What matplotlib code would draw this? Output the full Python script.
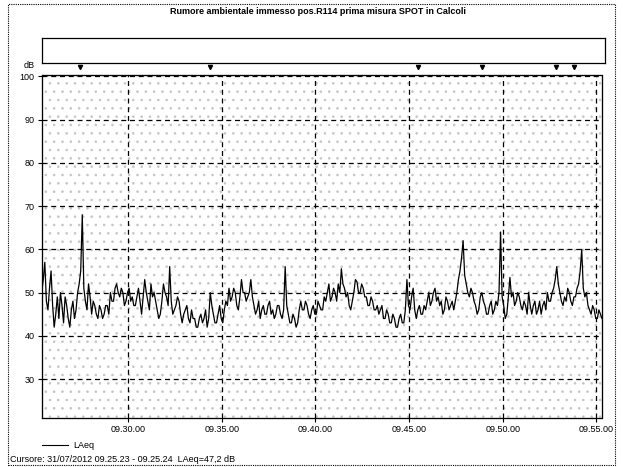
import numpy as np
import pandas as pd
import matplotlib
matplotlib.use("Agg")
import matplotlib.pyplot as plt
import matplotlib.dates as mdates
from matplotlib.patches import Rectangle
from matplotlib.lines import Line2D

plt.rcParams['font.family'] = ['Liberation Sans', 'DejaVu Sans']
plt.rcParams['hatch.linewidth'] = 0.6

title = "Rumore ambientale immesso pos.R114 prima misura SPOT in Calcoli"
cursor_txt = "Cursore: 31/07/2012 09.25.23 - 09.25.24  LAeq=47,2 dB"

start = pd.Timestamp("2012-07-31 09:25:23")
step_s = 5

# LAeq, one reading every 5 s (12 per row = 1 minute)
laeq = [
    50, 53, 57, 48, 46, 51, 55, 47, 42, 45, 49, 44,
    50, 47, 43, 49, 47, 44, 42, 46, 48, 44, 46, 50,
    52, 55, 68, 51, 48, 46, 52, 49, 45, 48, 47, 45,
    44, 47, 46, 44, 45, 47, 47, 45, 50, 48, 48, 51,
    52, 50, 49, 51, 50, 47, 48, 50, 51, 48, 49, 47,
    47, 49, 51, 48, 45, 49, 53, 50, 48, 46, 52, 49,
    50, 48, 46, 44, 45, 48, 52, 50, 49, 47, 56, 48,
    45, 46, 47, 49, 48, 45, 43, 45, 46, 47, 44, 43,
    46, 44, 44, 42, 42, 44, 45, 43, 44, 46, 42, 44,
    50, 47, 45, 43, 43, 45, 47, 44, 43, 46, 48, 47,
    51, 48, 49, 51, 50, 47, 46, 49, 53, 50, 50, 48,
    49, 50, 53, 49, 47, 45, 46, 48, 44, 46, 47, 45,
    45, 47, 48, 45, 46, 44, 45, 47, 47, 45, 44, 46,
    56, 47, 45, 43, 43, 45, 44, 42, 43, 46, 48, 46,
    46, 48, 47, 45, 44, 46, 47, 45, 45, 48, 47, 46,
    46, 49, 48, 50, 52, 48, 49, 51, 50, 48, 52, 50,
    55.5, 52, 51, 49, 50, 47, 46, 48, 50, 53, 52.5, 50,
    50, 52, 51, 49, 49, 47, 47, 49, 48, 46, 46, 47,
    45, 46, 47, 44, 44, 46, 45, 43, 43, 45, 44, 42,
    42, 44, 45, 43, 43, 46, 53, 47, 46, 49, 51, 46,
    44, 46, 47, 45, 45, 47, 46, 48, 50, 47, 48, 50,
    51, 48, 49, 47, 48, 45, 46, 49, 48, 46, 47, 48,
    46, 48, 50, 53, 55, 58, 62, 54, 52, 50, 49, 51,
    50, 48, 47, 45, 46, 49, 50, 48, 47, 45, 45, 47,
    48, 45, 46, 48, 47, 50, 64, 49, 47, 44, 45, 49,
    53.5, 49, 50, 47, 48, 50, 49, 47, 46, 48, 47, 45,
    50, 47, 45, 47, 48, 45, 46, 48, 45, 47, 48, 46,
    50, 48, 48, 50, 51, 53, 56, 52, 50, 48, 47, 49,
    48, 51, 50, 48, 47, 49, 49, 51, 52, 55, 60, 51,
    49, 50, 47, 46, 45, 47, 46, 44, 44, 46, 45, 44,
]

# event markers above the plot, seconds after start
marker_s = [123, 538, 1205, 1410, 1646, 1704]

yticks = [30, 40, 50, 60, 70, 80, 90, 100]

times = start + pd.to_timedelta(np.arange(len(laeq)) * step_s, unit="s")
t_end = start + pd.Timedelta(seconds=1794)

W, H = 623, 467
fig = plt.figure(figsize=(W / 100, H / 100), dpi=100)

def fx(px):
    return px / W

def fy(py):
    return 1 - py / H

# main plot
ax = fig.add_axes([fx(41.7), fy(418), fx(601.7 - 41.7), (418 - 75) / H])
bg = Rectangle((0, 0), 1, 1, transform=ax.transAxes, facecolor="white",
               hatch="..", edgecolor="#c4c4c4", lw=0, zorder=0)
ax.add_patch(bg)
ax.set_facecolor("white")

ax.plot(times, laeq, color="black", lw=0.9, zorder=3)

ax.set_xlim(start, t_end)
ax.set_ylim(21, 100.3)
ax.set_yticks(yticks)
ax.xaxis.set_major_locator(mdates.MinuteLocator(byminute=range(0, 60, 5)))
ax.xaxis.set_major_formatter(mdates.DateFormatter("%H.%M.%S"))
ax.tick_params(labelsize=6.5, length=3, width=0.8, pad=2, color="black")
ax.grid(True, color="black", linestyle=(0, (4, 3)), lw=0.9, zorder=2)
for sp in ax.spines.values():
    sp.set_linewidth(0.9)
    sp.set_linestyle((0, (1, 0.6)))

# markers
mtimes = start + pd.to_timedelta(marker_s, unit="s")
ax.plot(mtimes, [102.1] * len(marker_s), linestyle="none", marker="v",
        markersize=3, color="black", clip_on=False)

fig.text(fx(29), fy(65), "dB", fontsize=6.5, ha="center", va="center")

# empty box above the plot
box = fig.add_axes([fx(42), fy(63), fx(605 - 42), (63 - 38) / H])
box.set_xticks([])
box.set_yticks([])
for sp in box.spines.values():
    sp.set_linewidth(0.9)

fig.text(fx(318), fy(12), title, fontsize=6.5, fontweight="bold",
         ha="center", va="center")

# legend and cursor line
fig.add_artist(Line2D([fx(42), fx(68)], [fy(445), fy(445)], color="black", lw=0.8))
fig.text(fx(73), fy(445), "LAeq", fontsize=6.5, ha="left", va="center")
fig.text(fx(10), fy(459), cursor_txt, fontsize=6.5, ha="left", va="center")

# outer dotted frame
fig.add_artist(Rectangle((fx(8), fy(465)), fx(615 - 8), (465 - 4) / H,
                         fill=False, lw=0.8, linestyle=(0, (1, 1)),
                         edgecolor="black", transform=fig.transFigure))

fig.savefig("out.png", dpi=100)
